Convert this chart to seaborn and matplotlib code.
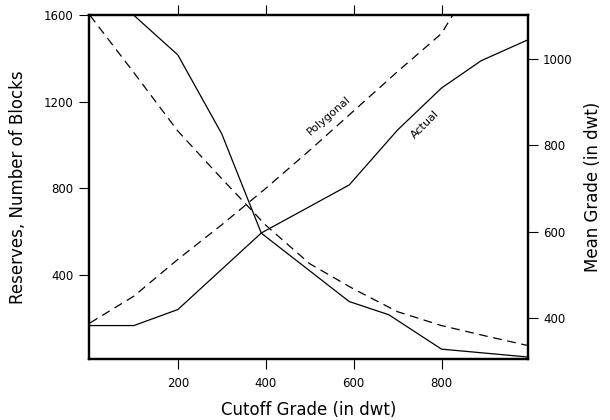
import matplotlib
matplotlib.use("Agg")
import matplotlib.pyplot as plt
import seaborn as sns
import pandas as pd

# ---- data ----
# Reserves (number of blocks), left axis
res_actual_x = [100, 200, 300, 390, 590, 680, 800, 1000]
res_actual_y = [1600, 1417, 1052, 593, 277, 216, 57, 20]
res_poly_x = [0, 100, 200, 300, 400, 500, 600, 700, 800, 900, 1000]
res_poly_y = [1600, 1335, 1065, 845, 630, 452, 335, 230, 166, 118, 72]
# Mean grade (dwt), right axis
grade_actual_x = [0, 100, 200, 390, 590, 700, 800, 890, 1000]
grade_actual_y = [383, 383, 420, 597, 708, 835, 932, 995, 1045]
grade_poly_x = [0, 100, 200, 300, 400, 500, 600, 700, 800, 900]
grade_poly_y = [389, 451, 536, 616, 700, 788, 879, 970, 1058, 1225]

x_ticks = [200, 400, 600, 800]
left_ticks = [400, 800, 1200, 1600]
right_ticks = [400, 600, 800, 1000]

res_df = pd.concat([
    pd.DataFrame({"cutoff": res_actual_x, "value": res_actual_y, "kind": "Actual"}),
    pd.DataFrame({"cutoff": res_poly_x, "value": res_poly_y, "kind": "Polygonal"}),
])
grade_df = pd.concat([
    pd.DataFrame({"cutoff": grade_actual_x, "value": grade_actual_y, "kind": "Actual"}),
    pd.DataFrame({"cutoff": grade_poly_x, "value": grade_poly_y, "kind": "Polygonal"}),
])

sns.set_theme(style="ticks")
plt.rcParams["font.family"] = ["DejaVu Sans"]
plt.rcParams["text.color"] = "black"
plt.rcParams["axes.labelcolor"] = "black"
plt.rcParams["xtick.color"] = "black"
plt.rcParams["ytick.color"] = "black"

fig = plt.figure(figsize=(6.1, 4.2), dpi=100)
ax = fig.add_axes([0.146, 0.1445, 0.719, 0.819])
ax2 = ax.twinx()

dashes = {"Actual": "", "Polygonal": (7, 4.5)}
sns.lineplot(data=res_df, x="cutoff", y="value", style="kind", dashes=dashes,
             color="black", linewidth=0.9, ax=ax, legend=False, sort=False,
             estimator=None)
sns.lineplot(data=grade_df, x="cutoff", y="value", style="kind", dashes=dashes,
             color="black", linewidth=0.9, ax=ax2, legend=False, sort=False,
             estimator=None)

ax.set_xlim(-2, 996)
ax.set_ylim(10, 1600)
ax2.set_ylim(305, 1100)

ax.set_xticks(x_ticks)
ax.set_yticks(left_ticks)
ax2.set_yticks(right_ticks)

for a in (ax, ax2):
    for s in a.spines.values():
        s.set_visible(True)
        s.set_linewidth(1.6)
        s.set_color("black")

ax.tick_params(axis="x", which="both", direction="out", length=7, width=0.8,
               top=True, labeltop=False, bottom=True, labelsize=8.5, pad=6,
               colors="black")
ax.tick_params(axis="y", direction="out", length=7, width=0.8, left=True,
               right=False, labelsize=8.5, pad=4, colors="black")
ax2.tick_params(axis="y", direction="out", length=7, width=0.8, right=True,
                labelsize=8.5, pad=4, colors="black")

ax.set_xlabel("Cutoff Grade (in dwt)", fontsize=12, labelpad=8, color="black")
ax.set_ylabel("Reserves, Number of Blocks", fontsize=12, labelpad=12,
              color="black")
ax2.set_ylabel("Mean Grade (in dwt)", fontsize=12, labelpad=8, color="black")

ax2.text(544, 869, "Polygonal", rotation=41, fontsize=8, ha="center",
         va="center", color="black")
ax2.text(763, 848, "Actual", rotation=45, fontsize=8, ha="center",
         va="center", color="black")

fig.savefig("out.png", dpi=100)
